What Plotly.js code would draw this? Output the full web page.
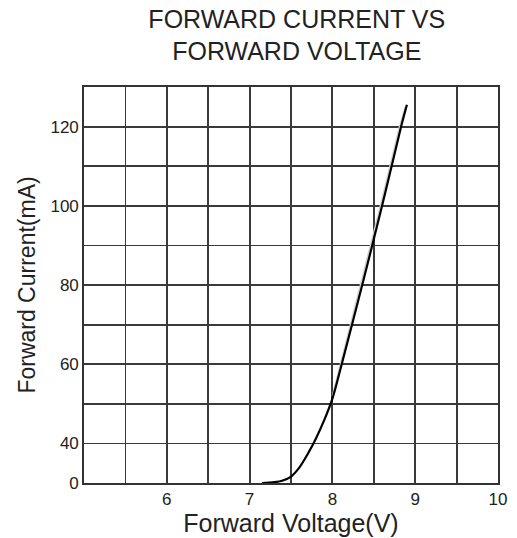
<!DOCTYPE html>
<html>
<head>
<meta charset="utf-8">
<script src="https://cdn.plot.ly/plotly-3.0.1.min.js"></script>
<style>html,body{margin:0;padding:0;background:#fff;}#chart{width:517px;height:538px;}</style>
</head>
<body>
<div id="chart"></div>
<script>
// Forward voltage (V) and forward current (mA)
var voltage = [7.15, 7.3, 7.4, 7.5, 7.6, 7.7, 7.8, 7.9, 8.0, 8.1, 8.36, 8.6, 8.83, 8.9];
var current = [0, 0.8, 2.5, 6.5, 15.5, 29, 41.2, 45.8, 51.3, 59, 80, 100, 120, 125.5];
// faint grey ghost line beside the linear part
var ghostVoltage = [8.0, 8.34, 8.58, 8.81, 8.88];
var ghostCurrent = [52, 80, 100, 120, 125];

var xTickVals = [5, 5.5, 6, 6.5, 7, 7.5, 8, 8.5, 9, 9.5, 10];
var xTickText = ['', '', '6', '', '7', '', '8', '', '9', '', '10'];
var yTickCurrent = [0, 40, 50, 60, 70, 80, 90, 100, 110, 120, 130];
var yTickText = ['0', '40', '', '60', '', '80', '', '100', '', '120', ''];

// broken axis: 0-40 mA squeezed into the first grid cell, then 10 mA per cell
function scaleCurrent(v) { return v <= 40 ? v / 40 : (v - 30) / 10; }

var traces = [
  {x: ghostVoltage, y: ghostCurrent.map(scaleCurrent), type: 'scatter', mode: 'lines',
   line: {color: '#d0d0d0', width: 1.5}, hoverinfo: 'skip', showlegend: false},
  {x: voltage, y: current.map(scaleCurrent), type: 'scatter', mode: 'lines',
   line: {color: '#000', width: 2.2, shape: 'spline', smoothing: 0.9}, showlegend: false,
   text: current.map(String), hovertemplate: '%{x} V, %{text} mA<extra></extra>'}
];

var layout = {
  width: 517, height: 538,
  margin: {l: 83.5, r: 19.3, t: 87, b: 55},
  paper_bgcolor: '#fff', plot_bgcolor: '#fff',
  font: {family: 'Liberation Sans, Arial, sans-serif', color: '#222'},
  title: {text: 'FORWARD CURRENT VS<br>FORWARD VOLTAGE', font: {size: 25, color: '#222'},
          x: 0.574, xanchor: 'center', y: 0.948, yanchor: 'top'},
  xaxis: {range: [5, 10], tickmode: 'array', tickvals: xTickVals, ticktext: xTickText,
          showgrid: true, gridcolor: '#3a3a3a', gridwidth: 1.8, zeroline: false,
          showline: true, linecolor: '#333', linewidth: 1.8, mirror: true,
          ticks: '', tickfont: {size: 17, color: '#222'},
          title: {text: 'Forward Voltage(V)', font: {size: 25, color: '#222'}, standoff: 5}},
  yaxis: {range: [0, 10], tickmode: 'array', tickvals: yTickCurrent.map(scaleCurrent), ticktext: yTickText,
          showgrid: true, gridcolor: '#3a3a3a', gridwidth: 1.8, zeroline: false,
          showline: true, linecolor: '#333', linewidth: 1.8, mirror: true,
          ticks: '', tickfont: {size: 17, color: '#222'},
          title: {text: 'Forward Current(mA)', font: {size: 23, color: '#222'}, standoff: 8}}
};

Plotly.newPlot('chart', traces, layout, {displayModeBar: false, staticPlot: true});
</script>
</body>
</html>
